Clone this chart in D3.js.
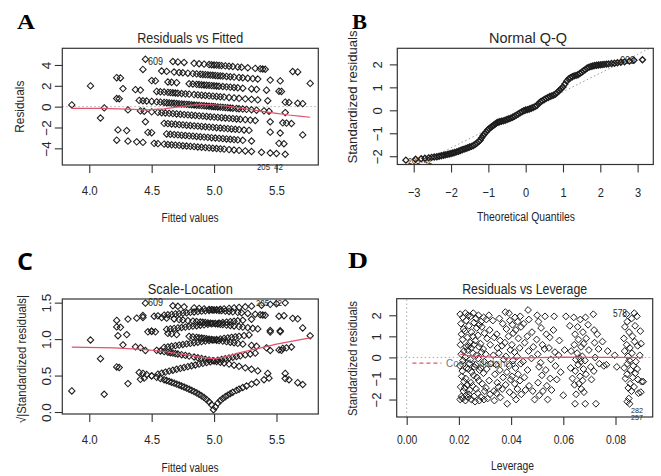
<!DOCTYPE html>
<html><head><meta charset="utf-8">
<script src="https://cdn.jsdelivr.net/npm/d3@7"></script>
<style>
body{margin:0;background:#fff}
svg{display:block}
text{font-family:"Liberation Sans",Arial,sans-serif;fill:#262626}
</style>
</head><body>
<svg id="c" width="661" height="476"></svg>
<script>
// ---------- DATA ----------
const fittedTicks=[4.0,4.5,5.0,5.5];
const residTicks=[-4,-2,0,2,4];
const qqXTicks=[-3,-2,-1,0,1,2,3];
const qqYTicks=[-2,-1,0,1,2];
const scaleYTicks=[0,0.5,1.0,1.5];
const levTicks=[0,0.02,0.04,0.06,0.08];
const levYTicks=[-2,-1,0,1,2];

// Residuals vs Fitted: [fitted, residual]
const residPoints=[
[4.45,4.55],[4.67,4.33],[4.71,4.29],[4.76,4.24],[4.84,4.16],[4.88,4.12],[4.92,4.08],[4.96,4.04],[4.98,4.02],[5.0,4.0],[5.02,3.98],[5.04,3.96],[5.06,3.94],[5.09,3.91],[5.12,3.88],[5.15,3.85],[5.19,3.81],[5.22,3.78],[5.27,3.73],[5.33,3.67],[5.37,3.63],[5.39,3.61],[5.41,3.59],[5.63,3.37],[5.67,3.33],
[4.43,3.57],[4.58,3.42],[4.62,3.38],[4.68,3.32],[4.72,3.28],[4.75,3.25],[4.79,3.21],[4.83,3.17],[4.86,3.14],[4.89,3.11],[4.91,3.09],[4.93,3.07],[4.95,3.05],[4.97,3.03],[4.99,3.01],[5.01,2.99],[5.03,2.97],[5.05,2.95],[5.07,2.93],[5.1,2.9],[5.13,2.87],[5.16,2.84],[5.2,2.8],[5.23,2.77],[5.27,2.73],[5.31,2.69],[5.35,2.65],[5.45,2.55],[5.53,2.47],[5.77,2.23],
[4.22,2.78],[4.25,2.75],[4.5,2.5],[4.53,2.47],[4.63,2.37],[4.66,2.34],[4.7,2.3],[4.8,2.2],[4.83,2.17],[4.86,2.14],[4.88,2.12],[4.9,2.1],[4.92,2.08],[4.94,2.06],[4.96,2.04],[4.98,2.02],[5.0,2.0],[5.02,1.98],[5.04,1.96],[5.07,1.93],[5.1,1.9],[5.13,1.87],[5.16,1.84],[5.19,1.81],[5.23,1.77],[5.3,1.7],[5.34,1.66],[5.42,1.58],[5.52,1.48],[5.54,1.46],
[4.01,1.99],[4.27,1.73],[4.37,1.63],[4.41,1.59],[4.54,1.46],[4.57,1.43],[4.6,1.4],[4.63,1.37],[4.65,1.35],[4.67,1.33],[4.69,1.31],[4.71,1.29],[4.74,1.26],[4.77,1.23],[4.8,1.2],[4.84,1.16],[4.87,1.13],[4.9,1.1],[4.93,1.07],[4.96,1.04],[4.99,1.01],[5.02,0.98],[5.05,0.95],[5.08,0.92],[5.12,0.88],[5.16,0.84],[5.2,0.8],[5.25,0.75],[5.3,0.7],[5.35,0.65],[5.43,0.57],[5.57,0.43],[5.6,0.4],[5.67,0.33],[5.71,0.29],
[4.22,0.78],[4.24,0.76],[4.4,0.6],[4.43,0.57],[4.46,0.54],[4.5,0.5],[4.54,0.46],[4.57,0.43],[4.6,0.4],[4.62,0.38],[4.64,0.36],[4.66,0.34],[4.68,0.32],[4.7,0.3],[4.72,0.28],[4.74,0.26],[4.76,0.24],[4.78,0.22],[4.8,0.2],[4.82,0.18],[4.84,0.16],[4.86,0.14],[4.88,0.12],[4.9,0.1],[4.92,0.08],[4.94,0.06],[4.96,0.04],[4.98,0.02],[4.995,0.002],[5.01,-0.01],[5.03,-0.03],[5.05,-0.05],[5.07,-0.07],[5.09,-0.09],[5.11,-0.11],[5.13,-0.13],[5.15,-0.15],[5.18,-0.18],[5.2,-0.2],[5.23,-0.23],[5.26,-0.26],[5.3,-0.3],[5.34,-0.34],[5.4,-0.4],[5.44,-0.44],[5.57,-0.57],
[3.86,0.17],[4.12,-0.12],[4.31,-0.31],[4.41,-0.41],[4.44,-0.44],[4.5,-0.5],[4.55,-0.55],[4.58,-0.58],[4.61,-0.61],[4.64,-0.64],[4.67,-0.67],[4.7,-0.7],[4.73,-0.73],[4.76,-0.76],[4.79,-0.79],[4.82,-0.82],[4.85,-0.85],[4.88,-0.88],[4.91,-0.91],[4.94,-0.94],[4.97,-0.97],[5.0,-1.0],[5.03,-1.03],[5.06,-1.06],[5.09,-1.09],[5.12,-1.12],[5.15,-1.15],[5.18,-1.18],[5.21,-1.21],[5.25,-1.25],[5.29,-1.29],[5.33,-1.33],[5.45,-1.45],[5.55,-1.55],[5.58,-1.58],[5.62,-1.62],
[4.09,-1.09],[4.45,-1.45],[4.6,-1.6],[4.63,-1.63],[4.66,-1.66],[4.69,-1.69],[4.72,-1.72],[4.75,-1.75],[4.78,-1.78],[4.81,-1.81],[4.84,-1.84],[4.87,-1.87],[4.9,-1.9],[4.93,-1.93],[4.96,-1.96],[4.99,-1.99],[5.02,-2.02],[5.05,-2.05],[5.08,-2.08],[5.11,-2.11],[5.14,-2.14],[5.17,-2.17],[5.2,-2.2],[5.24,-2.24],[5.28,-2.28],[5.45,-2.45],[5.53,-2.53],[5.71,-2.71],
[4.23,-2.23],[4.3,-2.3],[4.47,-2.47],[4.5,-2.5],[4.62,-2.62],[4.65,-2.65],[4.68,-2.68],[4.71,-2.71],[4.74,-2.74],[4.77,-2.77],[4.8,-2.8],[4.83,-2.83],[4.86,-2.86],[4.89,-2.89],[4.92,-2.92],[4.95,-2.95],[4.98,-2.98],[5.01,-3.01],[5.04,-3.04],[5.07,-3.07],[5.1,-3.1],[5.13,-3.13],[5.16,-3.16],[5.19,-3.19],[5.23,-3.23],[5.3,-3.3],[5.52,-3.52],[5.56,-3.56],
[4.22,-3.22],[4.31,-3.31],[4.38,-3.38],[4.43,-3.43],[4.52,-3.52],[4.55,-3.55],[4.6,-3.6],[4.63,-3.63],[4.66,-3.66],[4.69,-3.69],[4.72,-3.72],[4.75,-3.75],[4.78,-3.78],[4.81,-3.81],[4.84,-3.84],[4.87,-3.87],[4.9,-3.9],[4.93,-3.93],[4.96,-3.96],[4.99,-3.99],[5.02,-4.02],[5.05,-4.05],[5.08,-4.08],[5.12,-4.12],[5.16,-4.16],[5.2,-4.2],[5.25,-4.25],[5.3,-4.3],[5.38,-4.38],[5.45,-4.45],[5.5,-4.5],[5.57,-4.57]
];
const residSmooth=[[3.86,-0.17],[4.1,-0.17],[4.3,-0.24],[4.45,-0.3],[4.6,-0.22],[4.7,-0.05],[4.8,0.12],[4.9,0.2],[5.0,0.18],[5.1,0.05],[5.2,-0.12],[5.3,-0.3],[5.4,-0.48],[5.5,-0.64],[5.6,-0.8],[5.7,-0.93],[5.77,-1.02]];

// Scale-Location: [fitted, sqrt(|std residual|)]
const scalePoints=[
[4.45,1.493],[4.67,1.457],[4.71,1.45],[4.76,1.442],[4.84,1.428],[4.88,1.421],[4.92,1.414],[4.96,1.407],[4.98,1.404],[5.0,1.4],[5.02,1.397],[5.04,1.393],[5.06,1.39],[5.09,1.384],[5.12,1.379],[5.15,1.374],[5.19,1.367],[5.22,1.361],[5.27,1.352],[5.33,1.341],[5.37,1.334],[5.39,1.33],[5.41,1.327],[5.63,1.285],[5.67,1.278],
[4.43,1.323],[4.58,1.295],[4.62,1.287],[4.68,1.276],[4.72,1.268],[4.75,1.262],[4.79,1.254],[4.83,1.247],[4.86,1.241],[4.89,1.235],[4.91,1.231],[4.93,1.227],[4.95,1.223],[4.97,1.219],[4.99,1.215],[5.01,1.211],[5.03,1.207],[5.05,1.202],[5.07,1.199],[5.1,1.192],[5.13,1.186],[5.16,1.18],[5.2,1.172],[5.23,1.165],[5.27,1.157],[5.31,1.148],[5.35,1.14],[5.45,1.118],[5.53,1.1],[5.77,1.046],
[4.22,1.167],[4.25,1.161],[4.5,1.107],[4.53,1.1],[4.63,1.078],[4.66,1.071],[4.7,1.062],[4.8,1.038],[4.83,1.031],[4.86,1.024],[4.88,1.019],[4.9,1.015],[4.92,1.01],[4.94,1.005],[4.96,1.0],[4.98,0.995],[5.0,0.99],[5.02,0.985],[5.04,0.98],[5.07,0.973],[5.1,0.965],[5.13,0.957],[5.16,0.95],[5.19,0.942],[5.23,0.931],[5.3,0.913],[5.34,0.902],[5.42,0.88],[5.52,0.852],[5.54,0.846],
[4.01,0.988],[4.27,0.921],[4.37,0.894],[4.41,0.883],[4.54,0.846],[4.57,0.837],[4.6,0.828],[4.63,0.82],[4.65,0.813],[4.67,0.807],[4.69,0.801],[4.71,0.795],[4.74,0.786],[4.77,0.776],[4.8,0.767],[4.84,0.754],[4.87,0.744],[4.9,0.734],[4.93,0.724],[4.96,0.714],[4.99,0.704],[5.02,0.693],[5.05,0.682],[5.08,0.672],[5.12,0.657],[5.16,0.642],[5.2,0.626],[5.25,0.606],[5.3,0.586],[5.35,0.564],[5.43,0.529],[5.57,0.459],[5.6,0.443],[5.67,0.402],[5.71,0.377],
[4.22,0.618],[4.24,0.61],[4.4,0.542],[4.43,0.529],[4.46,0.514],[4.5,0.495],[4.54,0.475],[4.57,0.459],[4.6,0.443],[4.62,0.432],[4.64,0.42],[4.66,0.408],[4.68,0.396],[4.7,0.383],[4.72,0.37],[4.74,0.357],[4.76,0.343],[4.78,0.328],[4.8,0.313],[4.82,0.297],[4.84,0.28],[4.86,0.262],[4.88,0.243],[4.9,0.221],[4.92,0.198],[4.94,0.171],[4.96,0.14],[4.98,0.099],[4.995,0.031],[5.01,0.07],[5.03,0.121],[5.05,0.157],[5.07,0.185],[5.09,0.21],[5.11,0.232],[5.13,0.252],[5.15,0.271],[5.18,0.297],[5.2,0.313],[5.23,0.336],[5.26,0.357],[5.3,0.383],[5.34,0.408],[5.4,0.443],[5.44,0.464],[5.57,0.529],
[3.86,0.289],[4.12,0.243],[4.31,0.39],[4.41,0.448],[4.44,0.464],[4.5,0.495],[4.55,0.519],[4.58,0.533],[4.61,0.547],[4.64,0.56],[4.67,0.573],[4.7,0.586],[4.73,0.598],[4.76,0.61],[4.79,0.622],[4.82,0.634],[4.85,0.645],[4.88,0.657],[4.91,0.668],[4.94,0.679],[4.97,0.69],[5.0,0.7],[5.03,0.711],[5.06,0.721],[5.09,0.731],[5.12,0.741],[5.15,0.751],[5.18,0.761],[5.21,0.77],[5.25,0.783],[5.29,0.795],[5.33,0.807],[5.45,0.843],[5.55,0.872],[5.58,0.88],[5.62,0.891],
[4.09,0.731],[4.45,0.843],[4.6,0.886],[4.63,0.894],[4.66,0.902],[4.69,0.91],[4.72,0.918],[4.75,0.926],[4.78,0.934],[4.81,0.942],[4.84,0.95],[4.87,0.957],[4.9,0.965],[4.93,0.973],[4.96,0.98],[4.99,0.988],[5.02,0.995],[5.05,1.002],[5.08,1.01],[5.11,1.017],[5.14,1.024],[5.17,1.031],[5.2,1.038],[5.24,1.048],[5.28,1.057],[5.45,1.096],[5.53,1.114],[5.71,1.153],
[4.23,1.046],[4.3,1.062],[4.47,1.1],[4.5,1.107],[4.62,1.133],[4.65,1.14],[4.68,1.146],[4.71,1.153],[4.74,1.159],[4.77,1.165],[4.8,1.172],[4.83,1.178],[4.86,1.184],[4.89,1.19],[4.92,1.196],[4.95,1.202],[4.98,1.209],[5.01,1.215],[5.04,1.221],[5.07,1.227],[5.1,1.233],[5.13,1.239],[5.16,1.245],[5.19,1.251],[5.23,1.258],[5.3,1.272],[5.52,1.314],[5.56,1.321],
[4.22,1.256],[4.31,1.274],[4.38,1.287],[4.43,1.297],[4.52,1.314],[4.55,1.319],[4.6,1.328],[4.63,1.334],[4.66,1.339],[4.69,1.345],[4.72,1.35],[4.75,1.356],[4.78,1.361],[4.81,1.367],[4.84,1.372],[4.87,1.377],[4.9,1.383],[4.93,1.388],[4.96,1.393],[4.99,1.399],[5.02,1.404],[5.05,1.409],[5.08,1.414],[5.12,1.421],[5.16,1.428],[5.2,1.435],[5.25,1.443],[5.3,1.452],[5.38,1.465],[5.45,1.477],[5.5,1.485],[5.57,1.497]
];
const scaleSmooth=[[3.86,0.89],[4.2,0.88],[4.45,0.855],[4.6,0.83],[4.75,0.79],[4.9,0.75],[5.0,0.73],[5.1,0.76],[5.2,0.81],[5.35,0.87],[5.5,0.93],[5.65,0.98],[5.78,1.02]];

// Normal Q-Q: [theoretical quantile, standardized residual]
const qqPoints=[
[-3.21,-2.17],[-2.95,-2.13],[-2.8,-2.11],[-2.7,-2.09],[-2.6,-2.07],[-2.52,-2.05],[-2.45,-2.03],[-2.38,-2.02],[-2.32,-2.0],[-2.26,-1.98],[-2.2,-1.96],[-2.15,-1.94],[-2.1,-1.92],[-2.05,-1.9],[-2.0,-1.88],[-1.95,-1.86],[-1.9,-1.84],[-1.85,-1.81],[-1.8,-1.78],[-1.75,-1.75],[-1.7,-1.72],[-1.65,-1.69],[-1.6,-1.66],[-1.55,-1.63],[-1.5,-1.6],[-1.45,-1.57],[-1.4,-1.53],[-1.35,-1.48],[-1.3,-1.42],[-1.26,-1.36],[-1.22,-1.3],[-1.18,-1.2],[-1.14,-1.1],[-1.1,-1.02],[-1.06,-0.94],[-1.02,-0.86],[-0.98,-0.8],[-0.94,-0.75],[-0.9,-0.7],[-0.86,-0.65],[-0.82,-0.6],[-0.78,-0.55],[-0.74,-0.52],[-0.7,-0.5],[-0.65,-0.48],[-0.6,-0.46],[-0.55,-0.43],[-0.5,-0.4],[-0.45,-0.37],[-0.4,-0.34],[-0.35,-0.3],[-0.3,-0.26],[-0.25,-0.21],[-0.2,-0.16],[-0.15,-0.11],[-0.1,-0.06],[-0.05,-0.02],[0,0.01],[0.05,0.03],[0.1,0.06],[0.15,0.09],[0.2,0.12],[0.25,0.16],[0.3,0.21],[0.35,0.3],[0.4,0.37],[0.45,0.42],[0.5,0.47],[0.55,0.52],[0.6,0.56],[0.65,0.6],[0.7,0.63],[0.75,0.66],[0.8,0.71],[0.85,0.78],[0.9,0.86],[0.95,0.94],[1.0,1.02],[1.05,1.14],[1.1,1.27],[1.15,1.36],[1.2,1.42],[1.25,1.46],[1.3,1.5],[1.35,1.52],[1.4,1.55],[1.45,1.6],[1.5,1.66],[1.55,1.72],[1.6,1.78],[1.65,1.84],[1.7,1.88],[1.75,1.91],[1.8,1.93],[1.85,1.95],[1.9,1.96],[1.95,1.97],[2.0,1.98],[2.05,1.99],[2.1,2.0],[2.16,2.01],[2.22,2.02],[2.3,2.04],[2.38,2.05],[2.46,2.07],[2.55,2.09],[2.65,2.11],[2.78,2.14],[2.9,2.18],[3.13,2.2]
];
const qqLineEnds=[[-3.44,-2.81],[3.42,2.78]];

// Residuals vs Leverage: [leverage, standardized residual]
const leveragePoints=[
[0.0205,2.05],[0.0208,1.6],[0.021,1.1],[0.0206,0.6],[0.0209,0.15],[0.0204,-0.4],[0.0211,-0.9],[0.0207,-1.4],[0.021,-1.85],[0.0205,-2.0],
[0.0215,1.9],[0.0218,1.35],[0.0214,0.85],[0.0219,0.3],[0.0216,-0.15],[0.0213,-0.65],[0.022,-1.15],[0.0217,-1.6],[0.0214,-1.95],
[0.0225,2.1],[0.0228,1.75],[0.0223,1.25],[0.0227,0.5],[0.0224,0.0],[0.0229,-0.5],[0.0226,-1.0],[0.0222,-1.45],[0.0228,-1.8],[0.0225,-2.05],
[0.0235,2.0],[0.0238,1.5],[0.0233,0.95],[0.0237,0.55],[0.0234,0.35],[0.0239,-0.3],[0.0236,-0.55],[0.0232,-1.3],[0.0238,-1.75],[0.0235,-1.9],
[0.0245,1.95],[0.0248,1.2],[0.0243,0.7],[0.0247,0.45],[0.0244,-0.1],[0.0249,-0.7],[0.0246,-1.2],[0.0242,-1.55],[0.0248,-2.0],
[0.0255,2.1],[0.0258,1.65],[0.0253,1.0],[0.0257,0.6],[0.0254,0.2],[0.0259,-0.45],[0.0256,-0.85],[0.0252,-1.35],[0.0258,-1.85],
[0.0265,1.85],[0.0268,1.4],[0.0263,0.8],[0.0267,0.1],[0.0264,-0.35],[0.0269,-0.95],[0.0266,-1.5],[0.0262,-2.1],
[0.0275,2.0],[0.0278,1.55],[0.0273,1.05],[0.0277,0.5],[0.0274,-0.05],[0.0279,-0.6],[0.0276,-1.1],[0.0272,-1.7],[0.0278,-2.05],
[0.0285,1.7],[0.0288,1.45],[0.0283,0.65],[0.0287,0.25],[0.0284,-0.5],[0.0289,-1.25],[0.0286,-1.9],
[0.0295,1.9],[0.0298,1.15],[0.0293,0.4],[0.0297,-0.2],[0.0294,-0.75],[0.0299,-1.6],[0.0296,-2.0],
[0.0305,1.8],[0.0308,0.9],[0.0303,0.15],[0.0307,-0.55],[0.0304,-1.45],[0.031,-1.95],
[0.0315,2.0],[0.0318,1.3],[0.032,0.6],[0.0322,-0.3],[0.0316,-1.1],[0.0319,-1.75],
[0.033,1.75],[0.0335,0.95],[0.0332,0.1],[0.0338,-0.8],[0.0334,-1.6],[0.0336,-2.05],
[0.0345,1.1],[0.0348,0.45],[0.0343,-0.35],[0.0347,-1.2],[0.0344,-1.7],
[0.0355,1.85],[0.0358,0.8],[0.0353,0.2],[0.0357,-0.6],[0.0352,-1.4],[0.0359,-1.9],
[0.0368,1.6],[0.0365,0.55],[0.0372,-0.1],[0.0369,-0.95],[0.0366,-1.5],
[0.0378,2.15],[0.0382,1.35],[0.0376,0.7],[0.038,0.05],[0.0384,-0.7],[0.0379,-1.3],[0.0385,-2.2],
[0.0392,2.1],[0.0395,1.75],[0.039,1.0],[0.0397,0.35],[0.0393,-0.4],[0.0398,-1.05],[0.0394,-1.65],
[0.0405,1.55],[0.0408,1.15],[0.0403,0.6],[0.0407,-0.15],[0.0404,-0.9],[0.0409,-1.8],
[0.0415,1.9],[0.0418,1.3],[0.0413,0.25],[0.0417,-0.5],[0.0414,-1.25],[0.0419,-2.0],
[0.0425,1.7],[0.0428,0.9],[0.0423,0.05],[0.0427,-0.8],[0.0424,-1.5],
[0.0435,1.95],[0.0438,1.45],[0.0433,0.45],[0.0437,-0.3],[0.0434,-1.1],[0.0439,-1.75],
[0.0448,1.6],[0.0452,0.7],[0.0446,-0.2],[0.0451,-0.95],[0.0455,-1.55],
[0.0465,2.25],[0.0468,1.8],[0.0462,1.0],[0.0467,0.3],[0.0463,-0.6],[0.0469,-1.35],
[0.048,1.2],[0.0485,0.5],[0.0478,-0.05],[0.0483,-1.6],[0.049,-2.0],
[0.05,2.0],[0.0505,1.7],[0.0498,0.85],[0.0502,0.15],[0.0507,-0.45],[0.0503,-1.2],[0.0508,-1.8],
[0.0515,1.4],[0.052,0.6],[0.0513,-0.25],[0.0518,-0.85],[0.0522,-1.6],
[0.053,1.95],[0.0535,1.1],[0.0528,0.4],[0.0533,-0.6],[0.0537,-1.35],[0.054,-2.0],
[0.0548,0.95],[0.0545,0.45],[0.0552,-0.1],[0.055,-1.0],[0.0555,-1.55],
[0.0565,1.95],[0.0562,1.3],[0.0568,0.25],[0.057,-0.4],[0.0575,-1.05],
[0.0585,0.8],[0.0582,0.1],[0.059,-0.7],[0.06,-1.8],[0.0605,0.35],[0.061,1.95],
[0.0625,1.5],[0.063,0.3],[0.0628,-0.5],[0.0635,-1.0],
[0.064,1.9],[0.0645,1.1],[0.0642,0.6],[0.0648,-0.1],[0.0646,-0.65],[0.0643,-1.3],[0.0649,-1.75],[0.0645,-2.2],
[0.0655,1.45],[0.0658,0.85],[0.0653,0.2],[0.0657,-0.35],[0.066,-1.25],
[0.0665,1.8],[0.0668,0.5],[0.0663,-0.05],[0.0667,-0.2],[0.0664,-0.9],[0.0669,-1.5],
[0.0675,1.2],[0.0678,0.65],[0.0673,0.05],[0.0677,-0.55],[0.0674,-1.1],[0.0679,-1.65],
[0.0685,1.9],[0.0688,0.9],[0.0683,-0.15],[0.0687,-0.8],[0.0684,-2.2],
[0.0695,1.55],[0.0698,0.35],[0.0705,-0.45],[0.0708,-1.05],
[0.0715,2.05],[0.0718,1.3],[0.072,0.7],[0.0722,0.0],[0.0717,-0.65],[0.0725,-2.2],
[0.073,1.1],[0.0735,0.4],[0.0738,-0.3],
[0.075,0.75],[0.0755,-0.4],[0.0765,-0.35],[0.077,0.3],[0.0797,0.1],[0.0805,-0.45],
[0.0832,0.9],[0.0835,0.3],[0.0833,-0.5],[0.0838,-1.0],[0.0836,1.45],
[0.0842,2.05],[0.0845,1.7],[0.0843,0.6],[0.0848,0.05],[0.0846,-0.3],[0.0844,-0.8],[0.0849,-1.45],[0.0845,-2.1],
[0.0852,1.2],[0.0855,0.45],[0.0853,-0.15],[0.0858,-0.6],[0.0856,-1.25],[0.0851,-1.95],[0.0854,-2.2],
[0.0862,1.85],[0.0865,1.0],[0.0863,0.2],[0.0868,-0.4],[0.0866,-0.95],[0.0861,-1.6],
[0.0872,2.1],[0.0875,1.5],[0.0873,0.75],[0.0878,-0.2],[0.0876,-0.75],[0.0871,-1.4],
[0.0882,1.95],[0.0885,0.55],[0.0883,-0.55],[0.0888,-1.7],[0.0886,-1.05],
[0.0895,1.25],[0.0898,0.65],[0.0893,0.1],[0.09,-1.15],[0.0897,-1.65],[0.0906,-1.15]
];
const leverageSmooth=[[0.0205,0.15],[0.023,0.1],[0.026,0.06],[0.03,0.03],[0.035,0.0],[0.04,-0.03],[0.05,-0.01],[0.06,0.01],[0.07,0.0],[0.08,0.0],[0.0906,-0.01]];
const cooksLegend=[[0.0022,-0.27],[0.0133,-0.27]];

// ---------- DRAWING ----------
const svg=d3.select("#c");
const RED="#DF536B";
const diamond=r=>`M0,${-r}L${r},0L0,${r}L${-r},0Z`;

function txt(x,y,s,o={}){
  const t=svg.append("text")
    .attr("transform",`translate(${x},${y})`+(o.rot?` rotate(${o.rot})`:""))
    .attr("text-anchor",o.anchor||"middle")
    .attr("font-size",o.size||12).text(s);
  if(o.len) t.attr("textLength",o.len).attr("lengthAdjust","spacingAndGlyphs");
  if(o.family) t.style("font-family",o.family);
  if(o.weight) t.attr("font-weight",o.weight);
  if(o.fill) t.style("fill",o.fill);
  return t;
}

function panel(o){
  const x=d3.scaleLinear().domain(o.xd).range([o.x0,o.x1]);
  const y=d3.scaleLinear().domain(o.yd).range([o.y1,o.y0]);
  const cid="clip"+o.id;
  svg.append("clipPath").attr("id",cid).append("rect")
    .attr("x",o.x0).attr("y",o.y0).attr("width",o.x1-o.x0).attr("height",o.y1-o.y0);
  const ax=svg.append("g").attr("transform",`translate(0,${o.y1})`)
    .call(d3.axisBottom(x).tickValues(o.xt).tickFormat(o.xf).tickSize(8).tickSizeOuter(0));
  ax.select(".domain").remove();
  ax.selectAll("line").attr("stroke","#333").attr("stroke-width",1.1);
  ax.selectAll("text").attr("y",o.xlo).attr("dy",null)
    .attr("font-size",o.ts).attr("transform",`scale(${o.tsx},1)`);
  const ay=svg.append("g").attr("transform",`translate(${o.x0},0)`)
    .call(d3.axisLeft(y).tickValues(o.yt).tickFormat(o.yf).tickSize(7.5).tickSizeOuter(0));
  ay.select(".domain").remove();
  ay.selectAll("line").attr("stroke","#333").attr("stroke-width",1.1);
  ay.selectAll("text").attr("x",0).attr("dy",null).attr("y",-o.ylo)
    .attr("transform","rotate(-90)").attr("text-anchor","middle").attr("font-size",o.ts);
  return {x,y,cid};
}

function drawPoints(P,pts,r,w){
  svg.append("g").selectAll("path").data(pts).join("path")
    .attr("transform",d=>`translate(${P.x(d[0])},${P.y(d[1])})`)
    .attr("d",diamond(r)).attr("fill","none").attr("stroke","#1c1c1c").attr("stroke-width",w);
}
function drawLine(P,pts,color,w,dash){
  const l=svg.append("path").datum(pts)
    .attr("d",d3.line().x(d=>P.x(d[0])).y(d=>P.y(d[1])))
    .attr("fill","none").attr("stroke",color).attr("stroke-width",w)
    .attr("clip-path",`url(#${P.cid})`);
  if(dash) l.attr("stroke-dasharray",dash);
}
function hline(P,v,xd){ drawLine(P,[[xd[0],v],[xd[1],v]],"#aaa",1,"1.5,2.5"); }
function box(o){
  svg.append("rect").attr("x",o.x0).attr("y",o.y0).attr("width",o.x1-o.x0).attr("height",o.y1-o.y0)
    .attr("fill","none").attr("stroke","#333").attr("stroke-width",1.2);
}
const f1=d3.format(".1f"), f0=d3.format("d"), f2=d3.format(".2f");

// Panel A
const oA={id:"A",x0:62.3,x1:318.3,y0:48.3,y1:165,xd:[3.784,5.835],yd:[-5.6,5.6],
  xt:fittedTicks,xf:f1,yt:residTicks,yf:f0,xlo:30,ylo:11.3,ts:13.5,tsx:0.85};
const A=panel(oA);
hline(A,0,oA.xd);
drawPoints(A,residPoints,3.2,1.05);
drawLine(A,residSmooth,RED,1.2);
box(oA);

// Panel B
const oB={id:"B",x0:397.3,x1:653.3,y0:48.3,y1:164.5,xd:[-3.44,3.42],yd:[-2.36,2.70],
  xt:qqXTicks,xf:f0,yt:qqYTicks,yf:f0,xlo:32.5,ylo:15.5,ts:13,tsx:0.85};
const B=panel(oB);
drawLine(B,qqLineEnds,"#999",1,"1.5,2.5");
drawPoints(B,qqPoints,3,1.35);
box(oB);

// Panel C
const oC={id:"C",x0:62.3,x1:318.3,y0:299,y1:414,xd:[3.784,5.835],yd:[-0.0274,1.55],
  xt:fittedTicks,xf:f1,yt:scaleYTicks,yf:f1,xlo:30.5,ylo:11.8,ts:13.5,tsx:0.85};
const C=panel(oC);
drawPoints(C,scalePoints,3.2,1.05);
drawLine(C,scaleSmooth,RED,1.2);
box(oC);

// Panel D
const oD={id:"D",x0:396.7,x1:652.7,y0:298.7,y1:417,xd:[-0.00383,0.09425],yd:[-2.829,2.787],
  xt:levTicks,xf:f2,yt:levYTicks,yf:f0,xlo:27.5,ylo:16.2,ts:13,tsx:0.8};
const D=panel(oD);
drawLine(D,[[0,oD.yd[0]],[0,oD.yd[1]]],"#aaa",1,"1.5,2.5");
hline(D,0,oD.xd);
drawLine(D,cooksLegend,RED,1.2,"4,3");
txt(446,367,"Cook's distance",{anchor:"start",size:11,len:70,fill:"#777"});
drawPoints(D,leveragePoints,3.4,1.0);
drawLine(D,leverageSmooth,RED,1.2);
box(oD);

// ---------- TEXT ----------
const serif='"Liberation Serif","DejaVu Serif",serif';
txt(17,28.5,"A",{anchor:"start",size:21,weight:"bold",family:serif,len:18,fill:"#000"});
txt(352,28.5,"B",{anchor:"start",size:21,weight:"bold",family:serif,len:15,fill:"#000"});
txt(17,270,"C",{anchor:"start",size:23,weight:"bold",family:'"Open Sans","Liberation Sans",sans-serif',len:16,fill:"#000"});
txt(348,268,"D",{anchor:"start",size:23,weight:"bold",family:serif,len:20,fill:"#000"});

txt(190.3,42.5,"Residuals vs Fitted",{size:14,len:106});
txt(528,42.5,"Normal Q-Q",{size:14,len:78});
txt(190.3,293.5,"Scale-Location",{size:14,len:85});
txt(524.7,293.5,"Residuals vs Leverage",{size:14,len:125});

txt(190,221.5,"Fitted values",{size:12.5,len:57});
txt(526,221,"Theoretical Quantiles",{size:12.5,len:98});
txt(190,472,"Fitted values",{size:12.5,len:57});
txt(512.5,470,"Leverage",{size:12.5,len:43});

txt(24,106.7,"Residuals",{size:12.5,rot:-90,len:52});
txt(357,97,"Standardized residuals",{size:13,rot:-90,len:133});
txt(25.5,359,"√|Standardized residuals|",{size:12.5,rot:-90,len:128});
txt(357,358.5,"Standardized residuals",{size:12.5,rot:-90,len:115});

// point id labels
txt(148,64.5,"609",{anchor:"start",size:10,len:15});
txt(257,169.5,"205",{anchor:"start",size:9.5,len:13});
txt(274,169.5,"42",{anchor:"start",size:9.5,len:9});
txt(620,63.5,"609",{anchor:"start",size:10,len:15});
txt(408,163.5,"205",{anchor:"start",size:9.5,len:12});
txt(424,163.5,"42",{anchor:"start",size:9.5,len:8});
txt(148,305.5,"609",{anchor:"start",size:10,len:15});
txt(256,305.5,"205",{anchor:"start",size:9.5,len:13});
txt(273,305.5,"42",{anchor:"start",size:9.5,len:9});
txt(613,316.5,"578",{anchor:"start",size:10,len:14});
txt(631,412.5,"282",{anchor:"start",size:8,len:12});
txt(631,420,"257",{anchor:"start",size:8,len:12});
</script>
</body></html>
